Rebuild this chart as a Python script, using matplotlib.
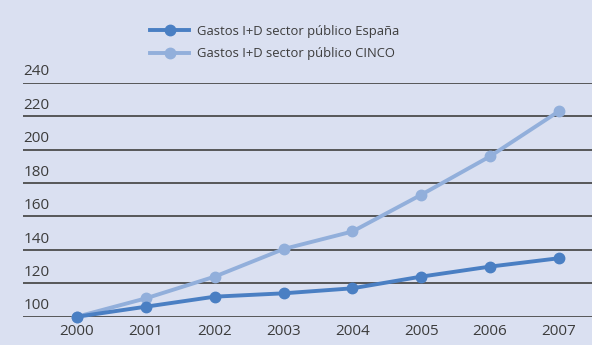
import matplotlib.pyplot as plt

years = [2000, 2001, 2002, 2003, 2004, 2005, 2006, 2007]
espana = [100, 106, 112, 114, 117, 124, 130, 135]
cinco = [100, 111, 124, 140.5, 151, 173, 196, 223]
yticks = [100, 120, 140, 160, 180, 200, 220, 240]

labels = ['Gastos I+D sector público España', 'Gastos I+D sector público CINCO']
col_dark = '#4a7fc3'
col_light = '#92afdb'
bg = '#dae0f1'
txt = '#3c3c3c'
grid = '#4c4c4c'

plt.rcParams['font.family'] = ['Open Sans', 'DejaVu Sans']

fig = plt.figure(figsize=(5.92, 3.45), dpi=100, facecolor=bg)
ax = fig.add_axes([0.039, 0.082, 0.961, 0.678])
ax.set_facecolor(bg)

ax.set_xlim(1999.216, 2007.48)
ax.set_ylim(100, 240)

for y in yticks:
    ax.axhline(y, color=grid, lw=1.3, zorder=1)
    ax.text(0.001, y + 2.0, str(y), transform=ax.get_yaxis_transform(),
            ha='left', va='bottom', fontsize=11, color=txt)

l2, = ax.plot(years, cinco, color=col_light, lw=2.8, marker='o', ms=7.5,
              clip_on=False, zorder=3, label=labels[1])
l1, = ax.plot(years, espana, color=col_dark, lw=2.8, marker='o', ms=7.5,
              clip_on=False, zorder=4, label=labels[0])

ax.set_yticks([])
ax.set_xticks(years)
ax.set_xticklabels([str(y) for y in years])
ax.tick_params(axis='x', length=0, pad=5, labelsize=11, labelcolor=txt)
for s in ax.spines.values():
    s.set_visible(False)

fig.legend(handles=[l1, l2], labels=labels, loc='upper left',
           bbox_to_anchor=(0.245, 0.943), frameon=False, fontsize=9.4,
           handlelength=3.0, handletextpad=0.55, labelspacing=0.72,
           borderaxespad=0, labelcolor=txt)

fig.savefig('out.png', dpi=100, facecolor=bg)
